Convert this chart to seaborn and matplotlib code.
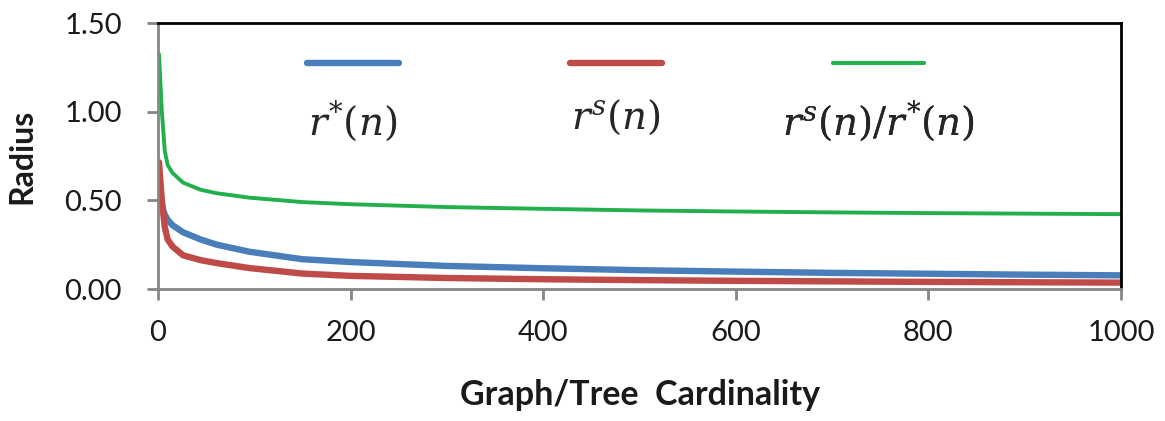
import numpy as np
import pandas as pd
import matplotlib
matplotlib.use("Agg")
import matplotlib.pyplot as plt
import seaborn as sns
from matplotlib.offsetbox import VPacker

# ---- data ----
n_values = [1, 4, 7, 10, 15, 26, 44, 61, 95, 150, 200, 300, 400, 500, 600, 700, 800, 900, 1000]
r_star = [0.54, 0.47, 0.42, 0.39, 0.36, 0.32, 0.28, 0.25, 0.21, 0.168, 0.152, 0.13, 0.117, 0.106,
          0.098, 0.091, 0.086, 0.081, 0.077]
r_s = [0.715, 0.50, 0.35, 0.28, 0.24, 0.19, 0.163, 0.146, 0.118, 0.087, 0.074, 0.062, 0.055, 0.050,
       0.046, 0.043, 0.040, 0.038, 0.036]
ratio = [1.325, 1.0, 0.78, 0.70, 0.655, 0.60, 0.56, 0.54, 0.515, 0.49, 0.478, 0.462, 0.452, 0.443,
         0.437, 0.432, 0.428, 0.425, 0.422]
series_labels = [r"$r^{*}(n)$", r"$r^{s}(n)$", r"$r^{s}(n)/r^{*}(n)$"]
x_ticks = [0, 200, 400, 600, 800, 1000]
y_ticks = [0.0, 0.5, 1.0, 1.5]
x_label = "Graph/Tree  Cardinality"
y_label = "Radius"

colors = ["#4A7EBB", "#BE4B48", "#21B04B"]
widths = [4.6, 4.6, 2.8]
legend_centers = [0.2025, 0.4757, 0.748]

sns.set_theme(style="white")
plt.rcParams["font.family"] = ["Lato", "DejaVu Sans"]
plt.rcParams["mathtext.fontset"] = "dejavuserif"

fig = plt.figure(figsize=(11.65, 4.21), dpi=100)
ax = fig.add_axes([158 / 1165, 1 - 289 / 421, (1121 - 158) / 1165, (289 - 23) / 421])

df = pd.DataFrame({"n": n_values * 3,
                   "value": r_star + r_s + ratio,
                   "series": [series_labels[0]] * len(n_values)
                   + [series_labels[1]] * len(n_values)
                   + [series_labels[2]] * len(n_values)})

for lab, col, lw in zip(series_labels, colors, widths):
    sub = df[df["series"] == lab]
    sns.lineplot(data=sub, x="n", y="value", ax=ax, color=col, linewidth=lw,
                 label=lab, solid_capstyle="round", solid_joinstyle="round")

ax.set_xlim(0, 1000)
ax.set_ylim(0, 1.5)
ax.set_xticks(x_ticks)
ax.set_yticks(y_ticks)
ax.set_yticklabels([f"{v:.2f}" for v in y_ticks])
ax.set_xticklabels([str(v) for v in x_ticks])

for s in ["left", "bottom"]:
    ax.spines[s].set_color("#868686")
    ax.spines[s].set_linewidth(2)
for s in ["top", "right"]:
    ax.spines[s].set_color("black")
    ax.spines[s].set_linewidth(2)

ax.tick_params(axis="y", which="major", direction="out", length=8, width=2, color="#868686",
               labelsize=21, pad=18, labelcolor="#1a1a1a", left=True)
ax.tick_params(axis="x", which="major", direction="out", length=8, width=2, color="#868686",
               labelsize=21, pad=14, labelcolor="#1a1a1a", bottom=True)

ax.set_xlabel(x_label, fontsize=24.5, fontweight="bold", labelpad=24, color="#1a1a1a")
ax.set_ylabel(y_label, fontsize=23, fontweight="bold", labelpad=20, color="#1a1a1a")

handles, labels = ax.get_legend_handles_labels()
if ax.get_legend():
    ax.get_legend().remove()
for h, lab, cx in zip(handles, labels, legend_centers):
    leg = ax.legend([h], [lab], frameon=False, loc="upper center",
                    bbox_to_anchor=(cx, 0.90), prop={"size": 28}, handlelength=2.35,
                    borderaxespad=0, borderpad=0)
    for line in leg.get_lines():
        line.set_solid_capstyle("round")
    hbox = leg._legend_handle_box
    for column in hbox.get_children():
        new_items = []
        for item in column.get_children():
            hb, tb = item.get_children()
            new_items.append(VPacker(pad=0, sep=15, children=[hb, tb], align="center"))
        column._children = new_items
    ax.add_artist(leg)

fig.savefig("out.png", dpi=100, facecolor="white")
